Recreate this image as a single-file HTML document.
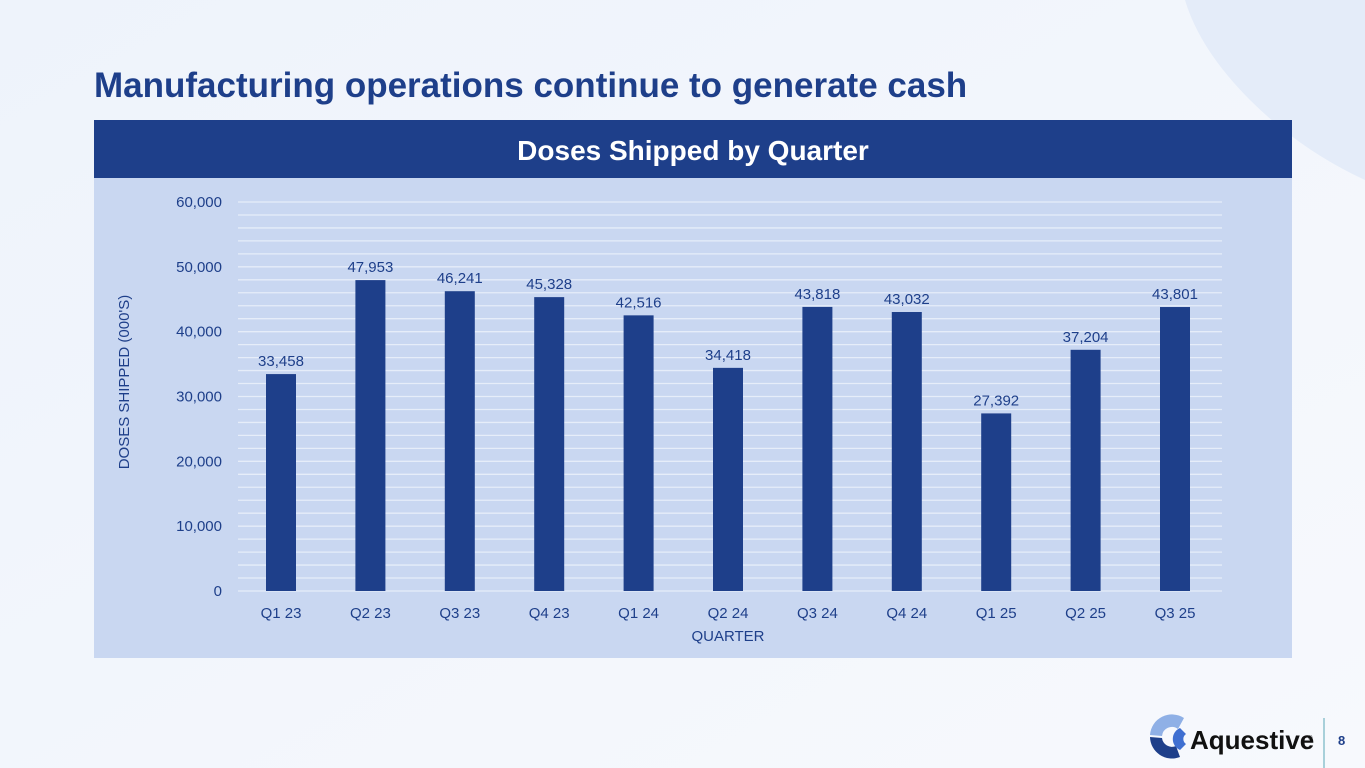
<!DOCTYPE html>
<html><head><meta charset="utf-8"><style>
body{margin:0;width:1365px;height:768px;overflow:hidden;background:#f4f7fc;font-family:"Liberation Sans",Arial,sans-serif;position:relative}
</style></head><body>
<svg width="1365" height="768" style="position:absolute;left:0;top:0">
<defs><linearGradient id="bg" x1="0" y1="0" x2="1" y2="1"><stop offset="0" stop-color="#eef3fb"/><stop offset="1" stop-color="#f7f9fd"/></linearGradient></defs>
<rect width="1365" height="768" fill="url(#bg)"/>
<path d="M1185 0 L1365 0 L1365 180 Q1300 150 1250 100 Q1200 50 1185 0 Z" fill="#e4ecf9"/>
<text x="94" y="97" font-size="35" font-weight="bold" fill="#1e3f8a" font-family="Liberation Sans, sans-serif">Manufacturing operations continue to generate cash</text>
<rect x="94" y="120" width="1198" height="58" fill="#1e3f8a"/>
<text x="693" y="160" text-anchor="middle" font-size="28" font-weight="bold" fill="#fff">Doses Shipped by Quarter</text>
<rect x="94" y="178" width="1198" height="480" fill="#c9d7f1"/>
<g stroke="#e6edf9" stroke-width="1.3" id="grid"></g>
<g font-size="15" fill="#1e3f8a" text-anchor="end" id="yl"></g>
<g id="bars"></g>
<text x="728" y="641" text-anchor="middle" font-size="15" fill="#1e3f8a">QUARTER</text>
<text transform="translate(129 382) rotate(-90)" text-anchor="middle" font-size="15" fill="#1e3f8a">DOSES SHIPPED (000'S)</text>
<path d="M1150 735 A22 22 0 0 1 1184 718 L1178 729 A10 10 0 0 0 1162 736 Z" fill="#8fb0e6"/>
<path d="M1150 737 A22 22 0 0 0 1180 757 L1176 746 A10 10 0 0 1 1162 738 Z" fill="#1e3f8a"/>
<path d="M1180 728 A12 12 0 0 0 1180 750 L1186 744 A6 6 0 0 1 1186 734 Z" fill="#3f6fd1"/>
<text x="1190" y="749" font-size="26" font-weight="bold" fill="#111">Aquestive</text>
<text x="1308" y="740" font-size="6" fill="#111">®</text>
<line x1="1324" y1="718" x2="1324" y2="768" stroke="#5aa8b8" stroke-width="1"/>
<text x="1338" y="745" font-size="13" font-weight="bold" fill="#1e3f8a">8</text>
</svg>
<script>
var ns="http://www.w3.org/2000/svg";
function el(p,t,a,tx){var e=document.createElementNS(ns,t);for(var k in a)e.setAttribute(k,a[k]);if(tx)e.textContent=tx;document.getElementById(p).appendChild(e);}
var y0=591,ppu=389/60000;
for(var v=0;v<=60000;v+=2000){var y=y0-v*ppu;el('grid','line',{x1:238,x2:1222,y1:y,y2:y});}
for(var v=0;v<=60000;v+=10000){el('yl','text',{x:222,y:y0-v*ppu+5},v.toLocaleString('en-US'));}
var d=[33458,47953,46241,45328,42516,34418,43818,43032,27392,37204,43801],q=['Q1 23','Q2 23','Q3 23','Q4 23','Q1 24','Q2 24','Q3 24','Q4 24','Q1 25','Q2 25','Q3 25'];
d.forEach(function(v,i){var cx=281+i*89.4,y=y0-v*ppu;
el('bars','rect',{x:cx-15,y:y,width:30,height:y0-y,fill:'#1e3f8a'});
el('bars','text',{x:cx,y:y-8,'text-anchor':'middle','font-size':15,fill:'#1e3f8a'},v.toLocaleString('en-US'));
el('bars','text',{x:cx,y:618,'text-anchor':'middle','font-size':15,fill:'#1e3f8a'},q[i]);});
</script>
</body></html>
